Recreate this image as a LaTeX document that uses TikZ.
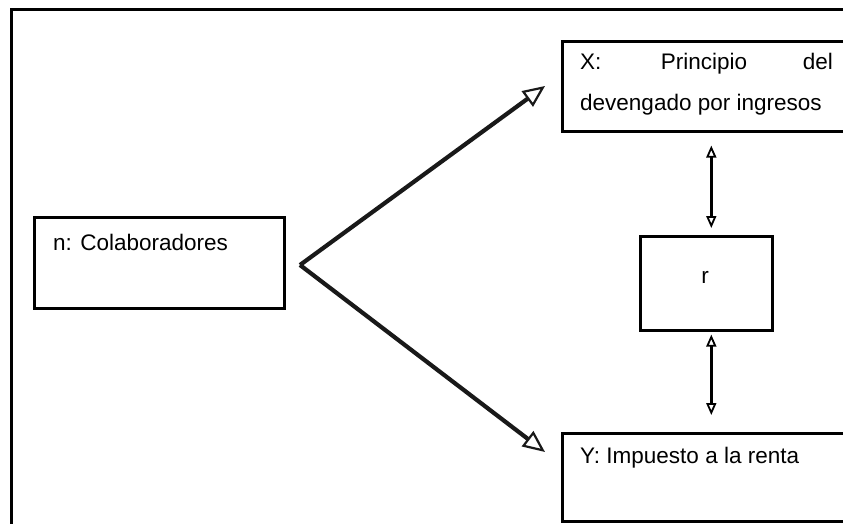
\documentclass[tikz,border=0pt]{standalone}
\usepackage{fontspec}
\setmainfont{Liberation Sans}
\usetikzlibrary{arrows.meta}
\begin{document}
\begin{tikzpicture}[x=1pt,y=-1pt,
  box/.style={draw=black, line width=2.6pt, anchor=north west, inner sep=0pt},
  lbl/.style={anchor=base west, inner sep=0pt, font=\fontsize{22.5}{26}\selectfont, text=black},
  bigarrow/.style={line width=4.2pt, draw=black!90,
    -{Triangle[open,length=22pt,width=19pt,line width=2.2pt]}},
  link/.style={line width=3.4pt, draw=black,
    {Triangle[open,length=12pt,width=10pt,line width=1.8pt]}-{Triangle[open,length=12pt,width=10pt,line width=1.8pt]}}
]
\useasboundingbox (0,0) rectangle (843,524);
\clip (0,0) rectangle (843,524);
% outer frame
\draw[line width=3pt, black] (11,540) -- (11,10) -- (860,10);
% boxes
\node[box, minimum width=250pt, minimum height=91pt] (n) at (33,216) {};
\node[box, minimum width=300pt, minimum height=90pt] (X) at (561,40) {};
\node[box, minimum width=132pt, minimum height=94pt] (r) at (639,235) {};
\node[box, minimum width=300pt, minimum height=88pt] (Y) at (561,432) {};
% labels
\node[lbl] (nt) at (53,250) {n: Colaboradores};
\node[lbl] (x1) at (580,70) {X:};
\node[lbl, anchor=base] (x2) at (704,70) {Principio};
\node[lbl, anchor=base east] (x3) at (833,70) {del};
\node[lbl] (x4) at (580,111) {devengado por ingresos};
\node[lbl, anchor=base] (rt) at (705,283) {r};
\node[lbl] (yt) at (580,463) {Y: Impuesto a la renta};
% connectors
\coordinate (apex) at (300,265);
\coordinate (xa) at (545,86);
\coordinate (ya) at (545,452);
\draw[bigarrow] (apex) -- (xa);
\draw[bigarrow] (apex) -- (ya);
\draw[link] ([xshift=5pt,yshift=-13pt]X.south -| r.north) -- ([xshift=5pt,yshift=7pt]r.north);
\draw[link] ([xshift=5pt,yshift=-3pt]r.south) -- ([xshift=5pt,yshift=17pt]Y.north -| r.south);
\end{tikzpicture}
\end{document}
